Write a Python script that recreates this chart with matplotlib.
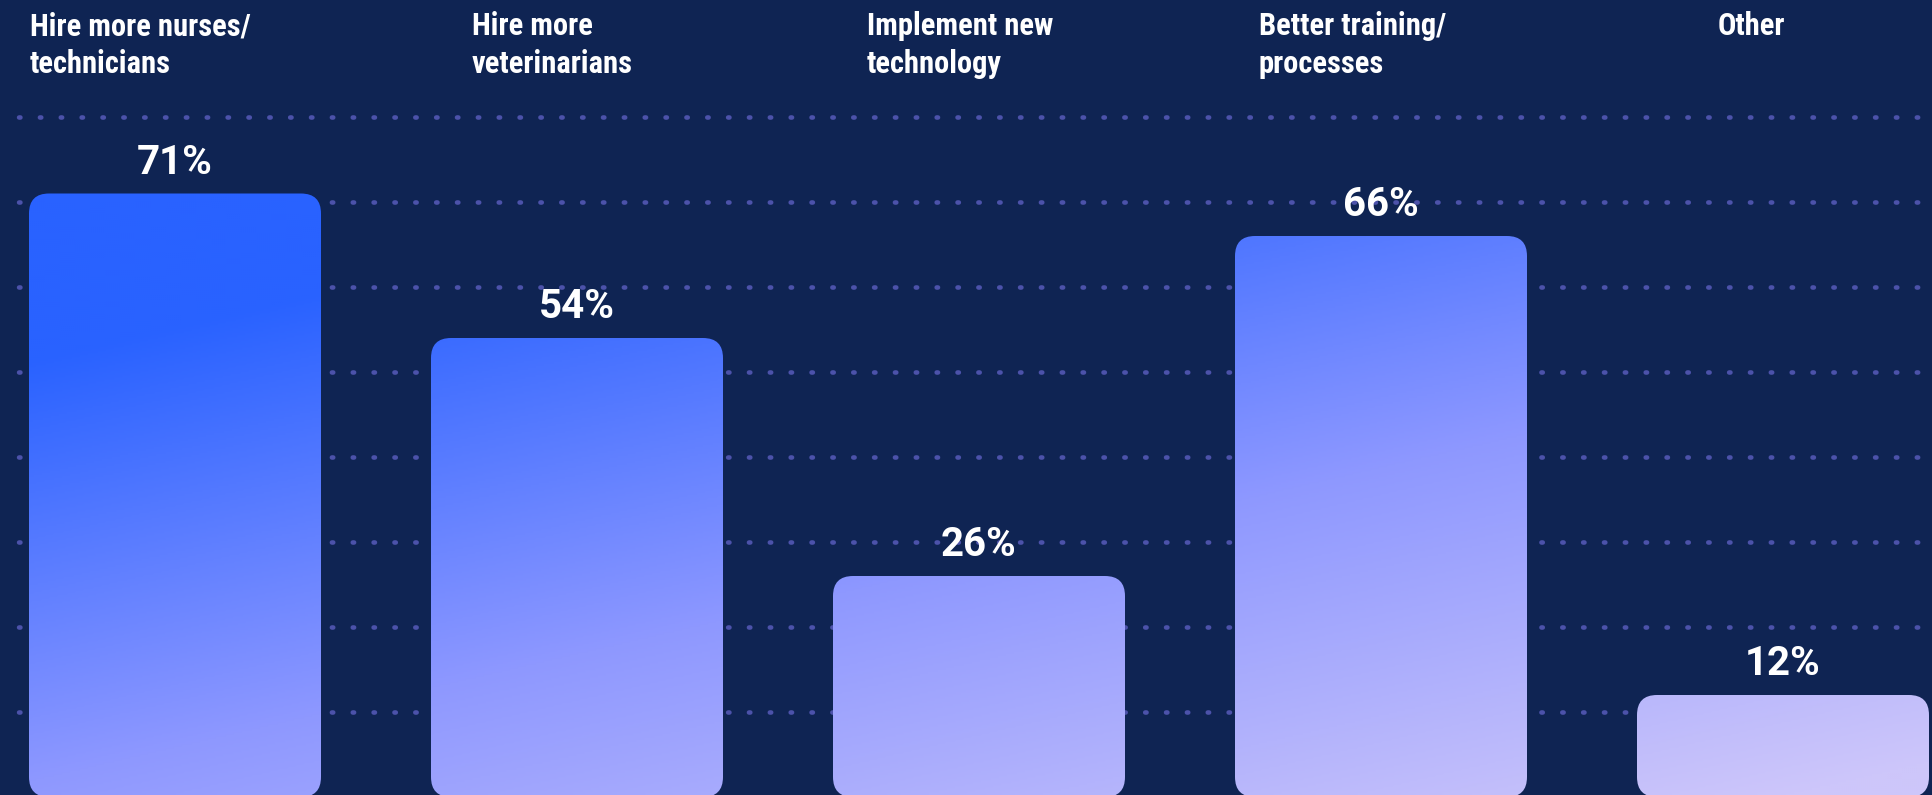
import numpy as np
import matplotlib
matplotlib.use("Agg")
import matplotlib.pyplot as plt
from matplotlib import font_manager
from matplotlib.patches import FancyBboxPatch
from matplotlib.colors import LinearSegmentedColormap

# данные опроса
categories = ["Hire more nurses/\ntechnicians", "Hire more\nveterinarians",
              "Implement new\ntechnology", "Better training/\nprocesses", "Other"]
values = [71, 54, 26, 66, 12]
grid_levels = [10, 20, 30, 40, 50, 60, 70, 80]

W, H = 1933, 795
bg = "#0f2453"
dot_color = "#4c52aa"

# узкий шрифт для подписей категорий, если он есть
names = {f.name for f in font_manager.fontManager.ttflist}
narrow = next((n for n in ["Liberation Sans Narrow", "DejaVu Sans Condensed",
                           "Roboto Condensed", "Open Sans Condensed"] if n in names), None)
cat_font = dict(family=[narrow, "DejaVu Sans"]) if narrow else dict(family="DejaVu Sans", stretch="condensed")

fig = plt.figure(figsize=(W / 100, H / 100), dpi=100, facecolor=bg)
ax = fig.add_axes([0, 0, 1, 1])
ax.set_facecolor(bg)

# масштаб: 402 px на категорию, 8.5 px на процент, ноль на 797 px сверху
px_x, px_y, zero_y, first_x = 402, 8.5, 797, 175
ax.set_xlim(-first_x / px_x, (W - first_x) / px_x)
ax.set_ylim((zero_y - H) / px_y, zero_y / px_y)
ax.axis("off")

# пунктирные линии сетки из круглых точек
for g in grid_levels:
    ax.axhline(g, color=dot_color, lw=3.3, linestyle=(0.5, (0.3, 4.25)),
               dash_capstyle="round", zorder=1)

# общий диагональный градиент для столбцов
cmap = LinearSegmentedColormap.from_list(
    "bars", [(0, "#2962ff"), (0.5, "#8e98ff"), (1, "#cdc6fa")])
yy, xx = np.mgrid[0:H:2, 0:W:2]
t = np.clip(0.000274 * xx + 0.00118 * yy - 0.43, 0, 1)
grad = cmap(t)
ext = (*ax.get_xlim(), *ax.get_ylim())

width = 292 / px_x
radius = 20 / px_x
for i, v in enumerate(values):
    box = FancyBboxPatch((i - width / 2, 0), width, v,
                         boxstyle=f"round,pad=0,rounding_size={radius}",
                         mutation_aspect=px_x / px_y,
                         facecolor="none", edgecolor="none", zorder=2)
    ax.add_patch(box)
    im = ax.imshow(grad, extent=ext, origin="upper", aspect="auto",
                   interpolation="bilinear", zorder=2)
    im.set_clip_path(box)
    ax.annotate(f"{v}%", (i, v), xytext=(0, 14.4), textcoords="offset points",
                ha="center", va="baseline", color="white", fontsize=29,
                family="Roboto", fontweight="bold", zorder=3)

# подписи категорий сверху
label_x = [30, 472, 867, 1259, 1718]
for lx, cat in zip(label_x, categories):
    for j, line in enumerate(cat.split("\n")):
        fig.text(lx / W, 1 - (35 + 38 * j) / H, line, ha="left", va="baseline",
                 color="white", fontsize=22, fontweight="bold", **cat_font)

fig.savefig("out.png", dpi=100, facecolor=bg)
